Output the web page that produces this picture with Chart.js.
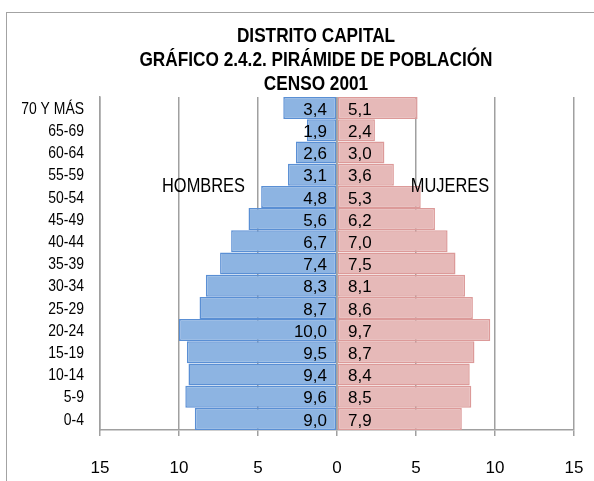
<!DOCTYPE html>
<html>
<head>
<meta charset="utf-8">
<script src="https://cdn.jsdelivr.net/npm/chart.js@4.4.1/dist/chart.umd.min.js"></script>
<style>
    body { margin: 0; background: #fff; }
    #wrap { position: relative; width: 594px; height: 481px; overflow: hidden; }
    #frame { position: absolute; left: 6px; top: 12px; width: 620px; height: 520px; border: 1.5px solid #a3a3a3; }
    #pyramid { position: absolute; left: 0; top: 0; }
</style>
</head>
<body>
<div id="wrap">
    <div id="frame"></div>
    <canvas id="pyramid" width="594" height="481"></canvas>
</div>
<script>
// Chart data (top row first)
const ageGroups = ['70 Y MÁS', '65-69', '60-64', '55-59', '50-54', '45-49', '40-44', '35-39', '30-34', '25-29', '20-24', '15-19', '10-14', '5-9', '0-4'];
const hombres = [3.4, 1.9, 2.6, 3.1, 4.8, 5.6, 6.7, 7.4, 8.3, 8.7, 10.0, 9.5, 9.4, 9.6, 9.0];
const mujeres = [5.1, 2.4, 3.0, 3.6, 5.3, 6.2, 7.0, 7.5, 8.1, 8.6, 9.7, 8.7, 8.4, 8.5, 7.9];
const titleLines = ['DISTRITO CAPITAL', 'GRÁFICO 2.4.2. PIRÁMIDE DE POBLACIÓN', 'CENSO 2001'];

const SANS = '"Liberation Sans", Arial, sans-serif';
const AXIS_GRAY = '#a0a0a0';
const NARROW_SCALE = 0.82; // no narrow face installed, so squeeze the text

// Format 3.4 -> "3,4"
function fmt(v) {
    return Math.abs(v).toFixed(1).replace('.', ',');
}

// Draw horizontally condensed text
function narrowText(ctx, text, x, y, align) {
    ctx.save();
    ctx.translate(x, y);
    ctx.scale(NARROW_SCALE, 1);
    ctx.textAlign = align;
    ctx.fillText(text, 0, 0);
    ctx.restore();
}

// Titles, row names, series names, value labels and the zero axis on top
const overlayPlugin = {
    id: 'overlay',
    afterDatasetsDraw(chart) {
        const ctx = chart.ctx;
        const x = chart.scales.x;
        const y = chart.scales.y;
        const area = chart.chartArea;
        const zero = x.getPixelForValue(0);

        // zero line over the bars
        ctx.save();
        ctx.strokeStyle = AXIS_GRAY;
        ctx.lineWidth = 1.5;
        ctx.beginPath();
        ctx.moveTo(zero, area.top);
        ctx.lineTo(zero, area.bottom);
        ctx.stroke();

        ctx.fillStyle = '#000';
        ctx.textBaseline = 'middle';

        // age group names
        ctx.font = '17px ' + SANS;
        ageGroups.forEach((name, j) => {
            narrowText(ctx, name, area.left - 16, y.getPixelForValue(j) + 1, 'right');
        });

        // value labels
        chart.data.datasets.forEach((ds, i) => {
            const meta = chart.getDatasetMeta(i);
            meta.data.forEach((bar, j) => {
                if (ds.data[j] < 0) {
                    ctx.textAlign = 'right';
                    ctx.fillText(fmt(ds.data[j]), zero - 10, bar.y + 2);
                } else {
                    ctx.textAlign = 'left';
                    ctx.fillText(fmt(ds.data[j]), zero + 11, bar.y + 2);
                }
            });
        });

        // series names
        const nameY = (y.getPixelForValue(3) + y.getPixelForValue(4)) / 2 + 1;
        ctx.font = '20px ' + SANS;
        narrowText(ctx, 'HOMBRES', x.getPixelForValue(-8.45), nameY, 'center');
        narrowText(ctx, 'MUJERES', x.getPixelForValue(7.15), nameY, 'center');

        // title
        ctx.font = 'bold 21px ' + SANS;
        titleLines.forEach((line, k) => {
            narrowText(ctx, line, 316, 36 + k * 24, 'center');
        });
        ctx.restore();
    }
};

const ctx = document.getElementById('pyramid').getContext('2d');
new Chart(ctx, {
    type: 'bar',
    data: {
        labels: ageGroups,
        datasets: [{
            label: 'HOMBRES',
            data: hombres.map(v => -v),
            backgroundColor: '#8db4e2',
            borderColor: '#5a8fd4',
            borderWidth: 1.5,
            borderSkipped: false,
            barPercentage: 1,
            categoryPercentage: 0.99
        }, {
            label: 'MUJERES',
            data: mujeres,
            backgroundColor: '#e6b9b8',
            borderColor: '#dc9a99',
            borderWidth: 1.5,
            borderSkipped: false,
            barPercentage: 1,
            categoryPercentage: 0.99
        }]
    },
    options: {
        indexAxis: 'y',
        responsive: false,
        animation: false,
        layout: { padding: { left: 0, right: 20, top: 97, bottom: 0 } },
        plugins: {
            legend: { display: false },
            title: { display: false },
            tooltip: { enabled: false }
        },
        scales: {
            x: {
                stacked: true,
                min: -15,
                max: 15,
                ticks: {
                    stepSize: 5,
                    padding: 22,
                    color: '#000',
                    font: { family: SANS, size: 17 },
                    callback: v => Math.abs(v)
                },
                grid: { color: AXIS_GRAY, lineWidth: 1.5, tickLength: 6, tickColor: AXIS_GRAY },
                border: { color: AXIS_GRAY, width: 1.5 },
                afterFit: scale => {
                    scale.height = 51;
                    scale.paddingLeft = 0;
                    scale.paddingRight = 0;
                }
            },
            y: {
                stacked: true,
                ticks: { display: false },
                grid: { display: false, drawTicks: false },
                border: { color: AXIS_GRAY, width: 1.5 },
                afterFit: scale => { scale.width = 100; }
            }
        }
    },
    plugins: [overlayPlugin]
});
</script>
</body>
</html>
